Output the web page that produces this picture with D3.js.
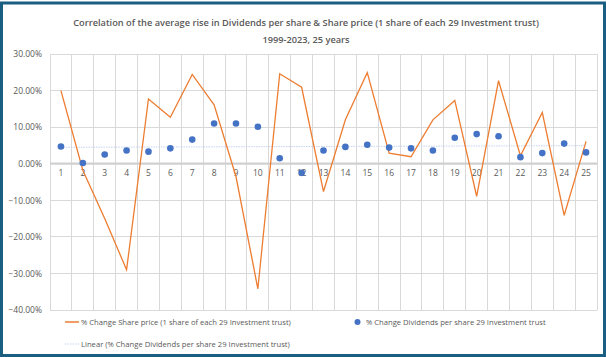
<!DOCTYPE html>
<html><head><meta charset="utf-8">
<script src="https://cdn.jsdelivr.net/npm/d3@7"></script>
<style>body{margin:0;background:#fff}svg{display:block}</style>
</head><body>
<svg id="c" width="606" height="357"></svg>
<script>
const categories = d3.range(1, 26).map(String);
const sharePrice = [20.0, -1.8, -15.0, -29.0, 17.7, 12.7, 24.4, 16.1, -3.5, -34.2, 24.6, 20.9, -7.6, 12.0, 24.9, 2.9, 1.9, 12.0, 17.3, -8.9, 22.7, 2.2, 14.0, -14.1, 6.1];
const dividends = [4.7, 0.2, 2.5, 3.6, 3.3, 4.2, 6.6, 11.0, 11.0, 10.1, 1.5, -2.5, 3.6, 4.6, 5.2, 4.4, 4.2, 3.6, 7.1, 8.1, 7.5, 1.8, 2.9, 5.5, 3.1];
const yTicks = [30, 20, 10, 0, -10, -20, -30, -40];
const titleLines = ["Correlation of the average rise in Dividends per share & Share price (1 share of each 29 Investment trust)", "1999-2023, 25 years"];
const legendLabels = ["% Change Share price (1 share of each 29 Investment trust)", "% Change Dividends per share 29 Investment trust", "Linear (% Change Dividends per share 29 Investment trust)"];

const svg = d3.select("#c");
const font = "'Open Sans', 'Liberation Sans', sans-serif";
const grey = "#595959";
const L = 50, R = 597, T = 54, B = 310;

const x = d3.scaleBand().domain(categories).range([L, R]);
const y = d3.scaleLinear().domain([-40, 30]).range([B, T]);

// fit a text's font size so its natural width matches a target
function fit(sel, target, base) {
  sel.attr("font-size", base);
  const w = sel.node().getComputedTextLength();
  const fs = +(base * target / w).toFixed(2);
  sel.attr("font-size", fs);
  return fs;
}

// frame
svg.append("rect").attr("x", 1.5).attr("y", 3).attr("width", 603).attr("height", 352.5)
  .attr("fill", "#fff").attr("stroke", "#1a5e82").attr("stroke-width", 3);

// title
const t1 = svg.append("text").attr("x", 306).attr("y", 26).attr("text-anchor", "middle")
  .attr("font-family", font).attr("font-weight", 600).attr("fill", grey).text(titleLines[0]);
const tfs = fit(t1, 466, 11);
svg.append("text").attr("x", 306).attr("y", 43).attr("text-anchor", "middle")
  .attr("font-family", font).attr("font-weight", 600).attr("fill", grey)
  .attr("font-size", tfs).text(titleLines[1]);

// horizontal gridlines
svg.append("g").selectAll("line").data(yTicks).join("line")
  .attr("x1", L).attr("x2", R).attr("y1", d => y(d)).attr("y2", d => y(d))
  .attr("stroke", "#d9d9d9").attr("stroke-width", 1).attr("shape-rendering", "crispEdges");
// vertical gridlines at category boundaries
const bounds = categories.map(c => x(c)).concat([R]);
svg.append("g").selectAll("line").data(bounds).join("line")
  .attr("x1", d => d).attr("x2", d => d).attr("y1", T).attr("y2", B)
  .attr("stroke", "#d9d9d9").attr("stroke-width", 1).attr("shape-rendering", "crispEdges");
// zero axis line
svg.append("line").attr("x1", L).attr("x2", R).attr("y1", y(0)).attr("y2", y(0))
  .attr("stroke", "#d0d0d0").attr("stroke-width", 2.2);

// y axis labels
const yAxis = d3.axisLeft(y).tickValues(yTicks).tickSize(0).tickPadding(8)
  .tickFormat(d => d3.format(".2f")(d) + "%");
const gy = svg.append("g").attr("transform", `translate(${L},0)`).call(yAxis);
gy.select(".domain").remove();
gy.selectAll("text").attr("font-family", font).attr("font-size", 8.5).attr("fill", grey);

// category labels
const xAxis = d3.axisBottom(x).tickSize(0).tickPadding(6);
const gx = svg.append("g").attr("transform", `translate(0,${y(0)})`).call(xAxis);
gx.select(".domain").remove();
gx.selectAll("text").attr("font-family", font).attr("font-size", 8.5).attr("fill", grey);

const cx = c => x(c) + x.bandwidth() / 2;

// linear trendline for dividends
const n = dividends.length;
const xs = d3.range(1, n + 1);
const mx = d3.mean(xs), my = d3.mean(dividends);
const slope = d3.sum(xs.map((v, i) => (v - mx) * (dividends[i] - my))) / d3.sum(xs.map(v => (v - mx) ** 2));
const icpt = my - slope * mx;
svg.append("line")
  .attr("x1", cx(categories[0])).attr("x2", cx(categories[n - 1]))
  .attr("y1", y(icpt + slope * 1)).attr("y2", y(icpt + slope * n))
  .attr("stroke", "#c5d3ee").attr("stroke-width", 1).attr("stroke-dasharray", "1.5,1");

// share price line
svg.append("path").datum(sharePrice)
  .attr("d", d3.line().x((d, i) => cx(categories[i])).y(d => y(d)))
  .attr("fill", "none").attr("stroke", "#ed7d31").attr("stroke-width", 1.3);

// dividend dots
svg.append("g").selectAll("circle").data(dividends).join("circle")
  .attr("cx", (d, i) => cx(categories[i])).attr("cy", d => y(d)).attr("r", 3.3)
  .attr("fill", "#4472c4");

// legend
const lg = svg.append("g").attr("font-family", font).attr("fill", grey);
lg.append("line").attr("x1", 65).attr("x2", 79).attr("y1", 322).attr("y2", 322).attr("stroke", "#ed7d31").attr("stroke-width", 1.5);
fit(lg.append("text").attr("x", 81).attr("y", 325).text(legendLabels[0]), 210, 8.5);
lg.append("circle").attr("cx", 357.5).attr("cy", 322).attr("r", 3).attr("fill", "#4472c4");
fit(lg.append("text").attr("x", 366).attr("y", 325).text(legendLabels[1]), 180, 8.5);
lg.append("line").attr("x1", 65).attr("x2", 79).attr("y1", 344).attr("y2", 344).attr("stroke", "#c5d3ee").attr("stroke-width", 1).attr("stroke-dasharray", "1.5,1");
fit(lg.append("text").attr("x", 81).attr("y", 347).text(legendLabels[2]), 209, 8.5);
</script>
</body></html>
